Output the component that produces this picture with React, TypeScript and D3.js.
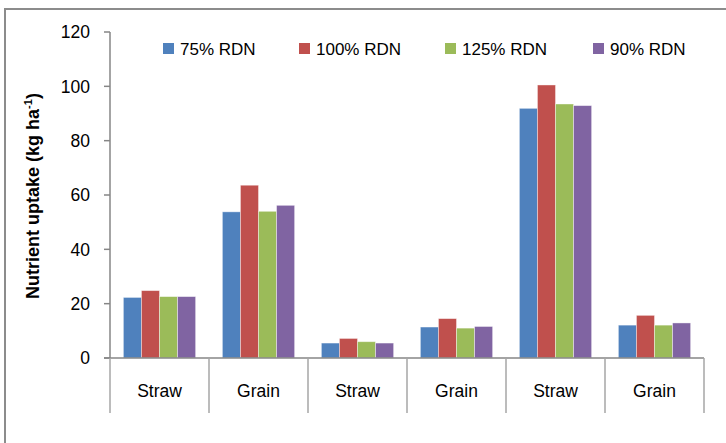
import * as React from 'react';
import * as d3 from 'd3';

// categories along the x axis
const categories = ['Straw', 'Grain', 'Straw', 'Grain', 'Straw', 'Grain'];
// legend entries
const seriesNames = ['75% RDN', '100% RDN', '125% RDN', '90% RDN'];
const seriesColors = ['#4F81BD', '#C0504D', '#9BBB59', '#8064A2'];

// values per series (kg/ha), one per category
const rdn75 = [22.3, 53.8, 5.5, 11.4, 91.9, 12.1];
const rdn100 = [24.8, 63.6, 7.2, 14.5, 100.5, 15.7];
const rdn125 = [22.6, 54.0, 6.0, 11.0, 93.5, 12.1];
const rdn90 = [22.6, 56.2, 5.5, 11.6, 92.9, 12.9];

const yTicks = [0, 20, 40, 60, 80, 100, 120];

const width = 726;
const height = 443;
const margin = { top: 32, right: 22, bottom: 84, left: 110 };

const font = '"Liberation Sans", Arial, sans-serif';

export default function App() {
    const series = [rdn75, rdn100, rdn125, rdn90];
    const innerW = width - margin.left - margin.right;
    const innerH = height - margin.top - margin.bottom - 1;

    const x = d3.scaleBand<number>()
        .domain(categories.map((_, i) => i))
        .range([0, innerW])
        .paddingInner(0.27)
        .paddingOuter(0.135);

    // outer band for the category separators
    const xCat = d3.scaleBand<number>()
        .domain(categories.map((_, i) => i))
        .range([0, innerW]);

    const xs = d3.scaleBand<number>()
        .domain(seriesNames.map((_, i) => i))
        .range([0, x.bandwidth()]);

    const y = d3.scaleLinear().domain([0, 120]).range([innerH, 0]);

    const legendX = [163, 299, 445, 593];

    return (
        <svg width={width} height={height} style={{ position: 'absolute', left: 0, top: 0 }}>
            <rect x={0} y={0} width={width} height={height} fill="#fff" />
            {/* chart frame */}
            <rect x={5} y={9} width={width + 20} height={height + 20} fill="none" stroke="#8c8c8c" strokeWidth={2} />

            {/* legend */}
            {seriesNames.map((name, i) => (
                <g key={name} transform={`translate(${legendX[i]},43)`}>
                    <rect x={0} y={0} width={11} height={11} fill={seriesColors[i]} />
                    <text x={17} y={12} fontFamily={font} fontSize={17} fill="#000">{name}</text>
                </g>
            ))}

            {/* y label */}
            <text transform={`translate(39,${196}) rotate(-90)`} textAnchor="middle"
                fontFamily={font} fontSize={18} fontWeight="bold" fill="#000">
                Nutrient uptake (kg ha<tspan dy={-7} fontSize={11}>-1</tspan><tspan dy={7}>)</tspan>
            </text>

            <g transform={`translate(${margin.left},${margin.top})`}>
                {/* bars */}
                {series.map((vals, s) => (
                    <g key={s}>
                        {vals.map((v, i) => (
                            <rect key={i}
                                x={(x(i) ?? 0) + (xs(s) ?? 0)}
                                y={y(v)}
                                width={xs.bandwidth()}
                                height={innerH - y(v)}
                                fill={seriesColors[s]}
                                stroke="#ffffff" strokeOpacity={0.5} strokeWidth={0.8} />
                        ))}
                    </g>
                ))}

                {/* y axis */}
                <line x1={0} x2={0} y1={0} y2={innerH} stroke="#868686" strokeWidth={1.5} />
                {yTicks.map(t => (
                    <g key={t} transform={`translate(0,${y(t)})`}>
                        <line x1={-6} x2={0} stroke="#868686" strokeWidth={1.5} />
                        <text x={-20} dy="0.36em" textAnchor="end" fontFamily={font} fontSize={17.5} fill="#000">{t}</text>
                    </g>
                ))}

                {/* x axis */}
                <line x1={-6} x2={innerW} y1={innerH} y2={innerH} stroke="#868686" strokeWidth={1.5} />
                {categories.map((_, i) => (
                    <line key={'s' + i} x1={xCat(i) ?? 0} x2={xCat(i) ?? 0} y1={innerH} y2={innerH + 55}
                        stroke="#a6a6a6" strokeWidth={1.5} />
                ))}
                <line x1={innerW} x2={innerW} y1={innerH} y2={innerH + 55} stroke="#a6a6a6" strokeWidth={1.5} />
                {categories.map((c, i) => (
                    <text key={'c' + i} x={(xCat(i) ?? 0) + xCat.bandwidth() / 2} y={innerH + 39}
                        textAnchor="middle" fontFamily={font} fontSize={17.5} fill="#000">{c}</text>
                ))}
            </g>
        </svg>
    );
}
